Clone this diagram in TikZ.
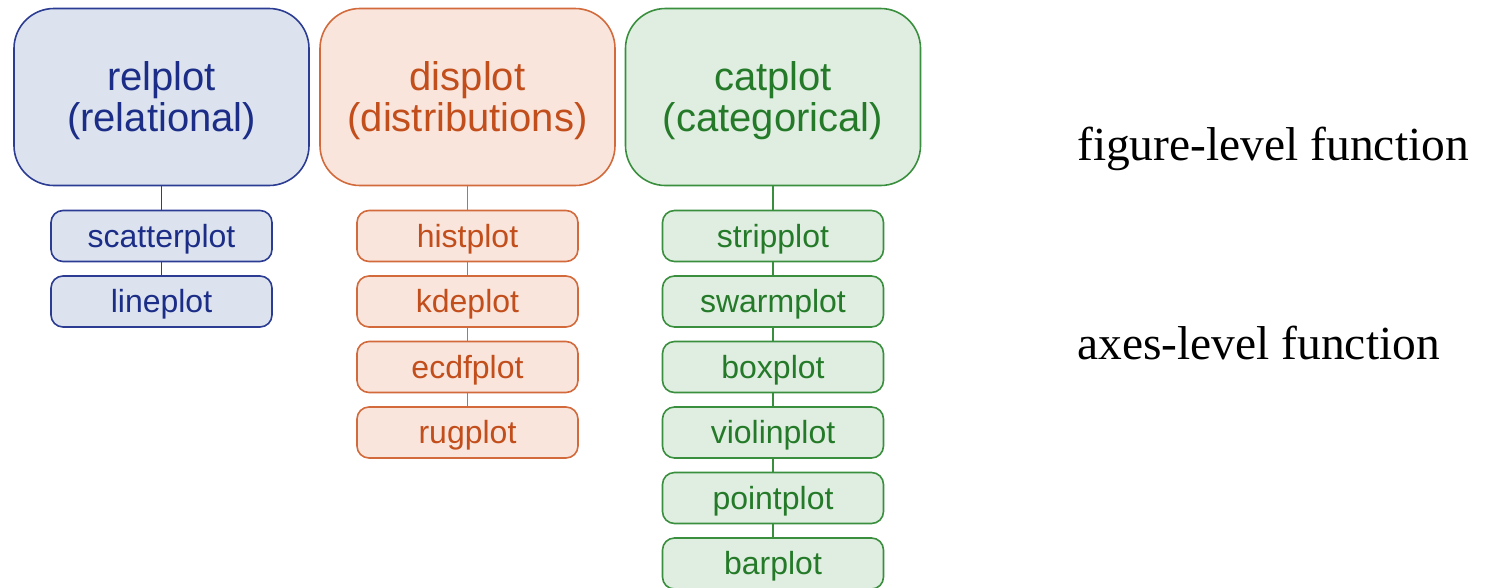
\documentclass[tikz,border=0pt]{standalone}
\usepackage{fontspec}
\setmainfont{Liberation Serif}
\newfontfamily\boxfont{Liberation Sans}
\definecolor{relDraw}{HTML}{2B3C92}
\definecolor{relFill}{HTML}{DCE3EF}
\definecolor{relText}{HTML}{1B2D86}
\definecolor{disDraw}{HTML}{D26A3C}
\definecolor{disFill}{HTML}{F9E5DC}
\definecolor{disText}{HTML}{C24E1C}
\definecolor{catDraw}{HTML}{3A8F3E}
\definecolor{catFill}{HTML}{DFEEE0}
\definecolor{catText}{HTML}{257A2A}
\tikzset{
  bigbox/.style={rounded corners=40pt, line width=1.6pt, minimum width=295pt,
    minimum height=177pt, inner sep=0pt, align=center, text depth=0pt,
    font=\boxfont\fontsize{40}{41}\selectfont},
  smallbox/.style={rounded corners=12pt, line width=1.6pt, minimum width=221pt,
    minimum height=51pt, inner sep=0pt, text height=23.4pt, text depth=1pt,
    font=\boxfont\fontsize{32}{34}\selectfont},
  rel/.style={draw=relDraw, fill=relFill, text=relText},
  dis/.style={draw=disDraw, fill=disFill, text=disText},
  cat/.style={draw=catDraw, fill=catFill, text=catText},
  link/.style={line width=1.8pt},
  levellabel/.style={anchor=base west, inner sep=0pt, font=\fontsize{47.5}{50}\selectfont}
}
\begin{document}
\begin{tikzpicture}[x=1pt, y=-1pt]
\useasboundingbox (0,0) rectangle (1488,587);

% figure-level functions
\node[bigbox, rel] (rel) at (161.5,97) {relplot\\(relational)};
\node[bigbox, dis] (dis) at (467.5,97) {displot\\(distributions)};
\node[bigbox, cat] (cat) at (773,97) {catplot\\(categorical)};

% axes-level functions: relational
\node[smallbox, rel] (scatter) at (161.5,236) {scatterplot};
\node[smallbox, rel] (line) at (161.5,301.5) {lineplot};
\draw[link, relDraw] (rel.south) -- (scatter.north);
\draw[link, relDraw] (scatter.south) -- (line.north);

% axes-level functions: distributions
\node[smallbox, dis] (hist) at (467.5,236) {histplot};
\node[smallbox, dis] (kde) at (467.5,301.5) {kdeplot};
\node[smallbox, dis] (ecdf) at (467.5,367) {ecdfplot};
\node[smallbox, dis] (rug) at (467.5,432.5) {rugplot};
\draw[link, disDraw] (dis.south) -- (hist.north);
\draw[link, disDraw] (hist.south) -- (kde.north);
\draw[link, disDraw] (kde.south) -- (ecdf.north);
\draw[link, disDraw] (ecdf.south) -- (rug.north);

% axes-level functions: categorical
\node[smallbox, cat] (strip) at (773,236) {stripplot};
\node[smallbox, cat] (swarm) at (773,301.5) {swarmplot};
\node[smallbox, cat] (box) at (773,367) {boxplot};
\node[smallbox, cat] (violin) at (773,432.5) {violinplot};
\node[smallbox, cat] (point) at (773,498) {pointplot};
\node[smallbox, cat] (bar) at (773,563.5) {barplot};
\draw[link, catDraw] (cat.south) -- (strip.north);
\draw[link, catDraw] (strip.south) -- (swarm.north);
\draw[link, catDraw] (swarm.south) -- (box.north);
\draw[link, catDraw] (box.south) -- (violin.north);
\draw[link, catDraw] (violin.south) -- (point.north);
\draw[link, catDraw] (point.south) -- (bar.north);

% level labels
\node[levellabel] (figlevel) at (1077,160) {figure-level function};
\node[levellabel] (axlevel) at (1077,359) {axes-level function};
\end{tikzpicture}
\end{document}
